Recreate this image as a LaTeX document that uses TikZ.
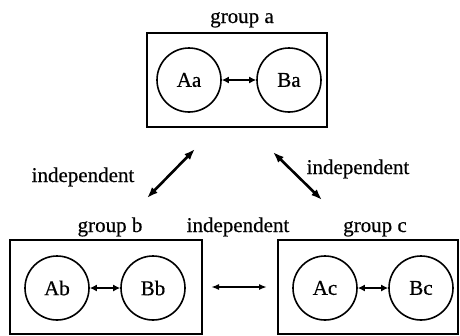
\documentclass[tikz,border=0pt]{standalone}
\usepackage{fontspec}
\setmainfont{Liberation Serif}[BoldFont=Liberation Serif, BoldFeatures={FakeBold=0.5}]
\usetikzlibrary{arrows.meta}
\begin{document}
\begin{tikzpicture}[x=1pt,y=-1pt,
  font=\fontsize{21}{25}\selectfont\bfseries,
  grpbox/.style={draw, line width=2pt, inner sep=0pt, minimum height=94pt},
  circ/.style={circle, draw, line width=1.6pt, minimum size=64pt, inner sep=0pt},
  lbl/.style={anchor=base, inner sep=0pt},
  smlink/.style={{Latex[length=7pt,width=7pt]}-{Latex[length=7pt,width=7pt]}, line width=2pt},
  biglink/.style={{Latex[length=11pt,width=8pt]}-{Latex[length=11pt,width=8pt]}, line width=2.6pt},
  midlink/.style={{Latex[length=8pt,width=6pt]}-{Latex[length=8pt,width=6pt]}, line width=1.8pt}]
\useasboundingbox (0,0) rectangle (460,335);
% group a
\node[grpbox, minimum width=180pt] (ga) at (237,80) {};
\node[circ] (Aa) at (189,80) {Aa};
\node[circ] (Ba) at (289,80) {Ba};
\node[lbl] (la) at (242,23) {group a};
% group b
\node[grpbox, minimum width=192pt] (gb) at (106,287) {};
\node[circ] (Ab) at (57,288) {Ab};
\node[circ] (Bb) at (153,288) {Bb};
\node[lbl] (lb) at (110,232) {group b};
% group c
\node[grpbox, minimum width=180pt] (gc) at (368,287) {};
\node[circ] (Ac) at (325,288) {Ac};
\node[circ] (Bc) at (421,288) {Bc};
\node[lbl] (lc) at (375,232) {group c};
% labels
\node[lbl] (il) at (83,182) {independent};
\node[lbl] (ir) at (358,174) {independent};
\node[lbl] (im) at (238,232) {independent};
% links inside groups
\draw[smlink] (Aa) -- (Ba);
\draw[smlink] (Ab) -- (Bb);
\draw[smlink] (Ac) -- (Bc);
% links between groups
\draw[midlink, shorten <=8pt, shorten >=10pt] (gb) -- (gc);
\coordinate (d1a) at (195,149);
\coordinate (d1b) at (147,198);
\coordinate (d2a) at (273,152);
\coordinate (d2b) at (322,200);
\draw[biglink] (d1a) -- (d1b);
\draw[biglink] (d2a) -- (d2b);
\end{tikzpicture}
\end{document}
